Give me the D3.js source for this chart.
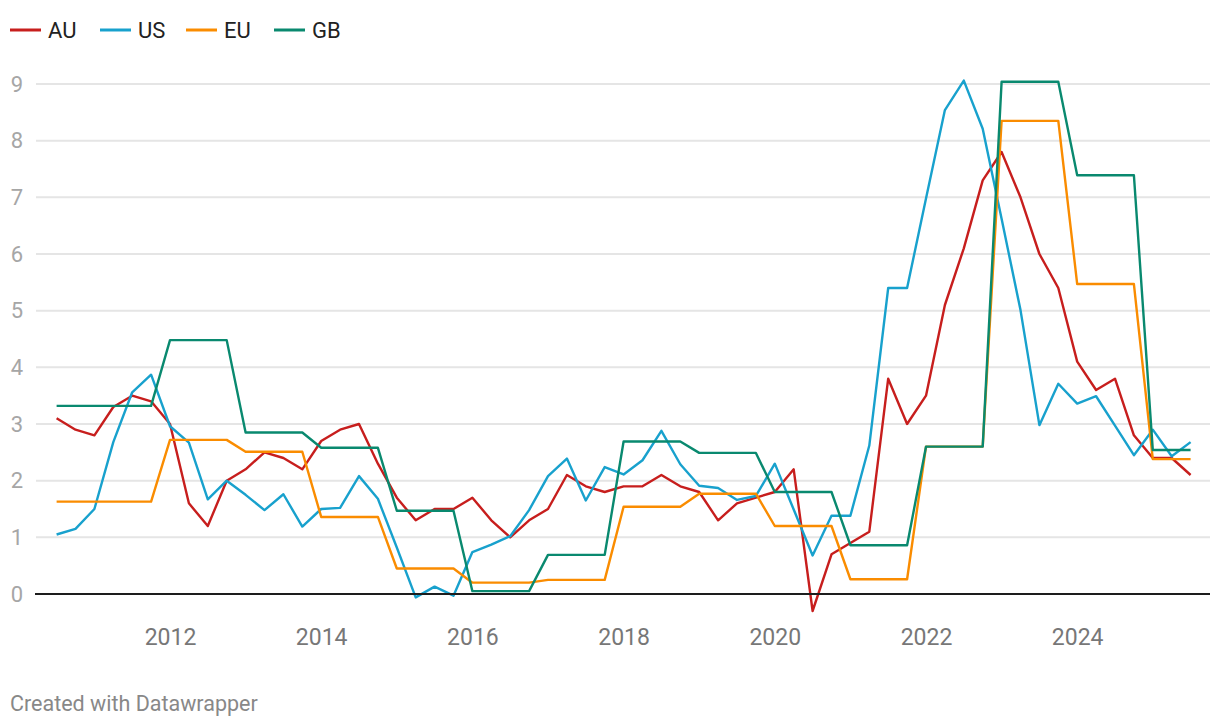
<!DOCTYPE html>
<html>
<head>
<meta charset="utf-8">
<script src="https://cdn.jsdelivr.net/npm/d3@7"></script>
<style>
  html, body { margin: 0; padding: 0; background: #fff; }
  svg { display: block; font-family: Roboto, "Noto Sans", sans-serif; }
</style>
</head>
<body>
<svg id="chart" width="1220" height="728"></svg>
<script>
// Quarterly observations, 2010 Q3 .. 2025 Q3 (61 quarters)
const startYear = 2010.5;
const quarters = d3.range(61).map(i => startYear + i * 0.25);

const seriesNames = ["AU", "US", "EU", "GB"];
const seriesColors = ["#c71e1d", "#18a1cd", "#fa8c00", "#09896f"];

const AU = [3.1,2.9,2.8,3.3,3.5,3.4,3.0,1.6,1.2,2.0,2.2,2.5,2.4,2.2,2.7,2.9,
            3.0,2.3,1.7,1.3,1.5,1.5,1.7,1.3,1.0,1.3,1.5,2.1,1.9,1.8,
            1.9,1.9,2.1,1.9,1.8,1.3,1.6,1.7,1.8,2.2,-0.3,0.7,0.9,1.1,
            3.8,3.0,3.5,5.1,6.1,7.3,7.8,7.0,6.0,5.4,4.1,3.6,3.8,2.8,2.4,2.4,2.1];
const US = [1.05,1.15,1.5,2.68,3.56,3.87,2.96,2.67,1.67,2.0,1.75,1.48,1.76,1.19,1.5,1.52,
            2.08,1.68,0.82,-0.06,0.13,-0.03,0.74,0.87,1.02,1.48,2.08,2.39,1.65,2.24,
            2.11,2.36,2.88,2.29,1.91,1.87,1.66,1.73,2.3,1.49,0.68,1.38,1.38,2.62,
            5.4,5.4,6.98,8.54,9.06,8.21,6.62,5.01,2.98,3.71,3.36,3.49,2.97,2.45,2.9,2.43,2.68];
const EU = [1.63,1.63,1.63,1.63,1.63,1.63,2.72,2.72,2.72,2.72,2.51,2.51,2.51,2.51,1.36,1.36,
            1.36,1.36,0.45,0.45,0.45,0.45,0.2,0.2,0.2,0.2,0.25,0.25,0.25,0.25,
            1.54,1.54,1.54,1.54,1.77,1.77,1.77,1.77,1.2,1.2,1.2,1.2,0.26,0.26,
            0.26,0.26,2.6,2.6,2.6,2.6,8.35,8.35,8.35,8.35,5.47,5.47,5.47,5.47,2.38,2.38,2.38];
const GB = [3.32,3.32,3.32,3.32,3.32,3.32,4.48,4.48,4.48,4.48,2.85,2.85,2.85,2.85,2.58,2.58,
            2.58,2.58,1.47,1.47,1.47,1.47,0.05,0.05,0.05,0.05,0.69,0.69,0.69,0.69,
            2.69,2.69,2.69,2.69,2.49,2.49,2.49,2.49,1.8,1.8,1.8,1.8,0.86,0.86,
            0.86,0.86,2.6,2.6,2.6,2.6,9.04,9.04,9.04,9.04,7.39,7.39,7.39,7.39,2.54,2.54,2.54];

const yTicks = [0,1,2,3,4,5,6,7,8,9];
const xTicks = [2012,2014,2016,2018,2020,2022,2024];
const footerText = "Created with Datawrapper";

const seriesValues = [AU, US, EU, GB];

const svg = d3.select("#chart");

const x = d3.scaleLinear().domain([2010.5, 2025.5]).range([56.6, 1190.6]);
const y = d3.scaleLinear().domain([0, 9]).range([594, 84]);

const gridLeft = 36, gridRight = 1210;

// gridlines
svg.append("g").selectAll("line").data(yTicks.filter(d => d !== 0)).join("line")
  .attr("x1", gridLeft).attr("x2", gridRight)
  .attr("y1", d => y(d)).attr("y2", d => y(d))
  .attr("stroke", "#e5e5e5").attr("stroke-width", 2);

// y labels
svg.append("g").selectAll("text").data(yTicks).join("text")
  .attr("x", 23).attr("y", d => y(d))
  .attr("dy", "0.35em")
  .attr("text-anchor", "end")
  .attr("fill", "#a6a6a6")
  .attr("font-size", 22)
  .text(d => d);

// x axis labels
const xAxis = d3.axisBottom(x).tickValues(xTicks).tickFormat(d3.format("d")).tickSize(0).tickPadding(0);
const gx = svg.append("g").attr("transform", "translate(0,637)").call(xAxis);
gx.select(".domain").remove();
gx.selectAll("text").attr("font-size", 23).attr("fill", "#777").attr("font-family", "Roboto, sans-serif").attr("dy", "0.35em");

// lines
const line = d3.line().x((d, i) => x(quarters[i])).y(d => y(d));
svg.append("g").selectAll("path").data(seriesValues).join("path")
  .attr("d", d => line(d))
  .attr("fill", "none")
  .attr("stroke", (d, i) => seriesColors[i])
  .attr("stroke-width", 2.4)
  .attr("stroke-linejoin", "round");

// zero line
svg.append("line")
  .attr("x1", gridLeft - 1).attr("x2", gridRight)
  .attr("y1", y(0)).attr("y2", y(0))
  .attr("stroke", "#1d1d1d").attr("stroke-width", 2.2);

// legend
const legendX = [10, 100, 186, 274];
const lg = svg.append("g").selectAll("g").data(seriesNames).join("g")
  .attr("transform", (d, i) => `translate(${legendX[i]},30)`);
lg.append("line").attr("x1", 0).attr("x2", 31).attr("y1", 0).attr("y2", 0)
  .attr("stroke", (d, i) => seriesColors[i]).attr("stroke-width", 3);
lg.append("text").attr("x", 38).attr("y", 0).attr("dy", "0.36em")
  .attr("font-size", 22).attr("fill", "#222").text(d => d);

// footer
svg.append("text").attr("x", 10).attr("y", 703).attr("dy", "0.35em")
  .attr("font-size", 21.5).attr("fill", "#888").text(footerText);
</script>
</body>
</html>
